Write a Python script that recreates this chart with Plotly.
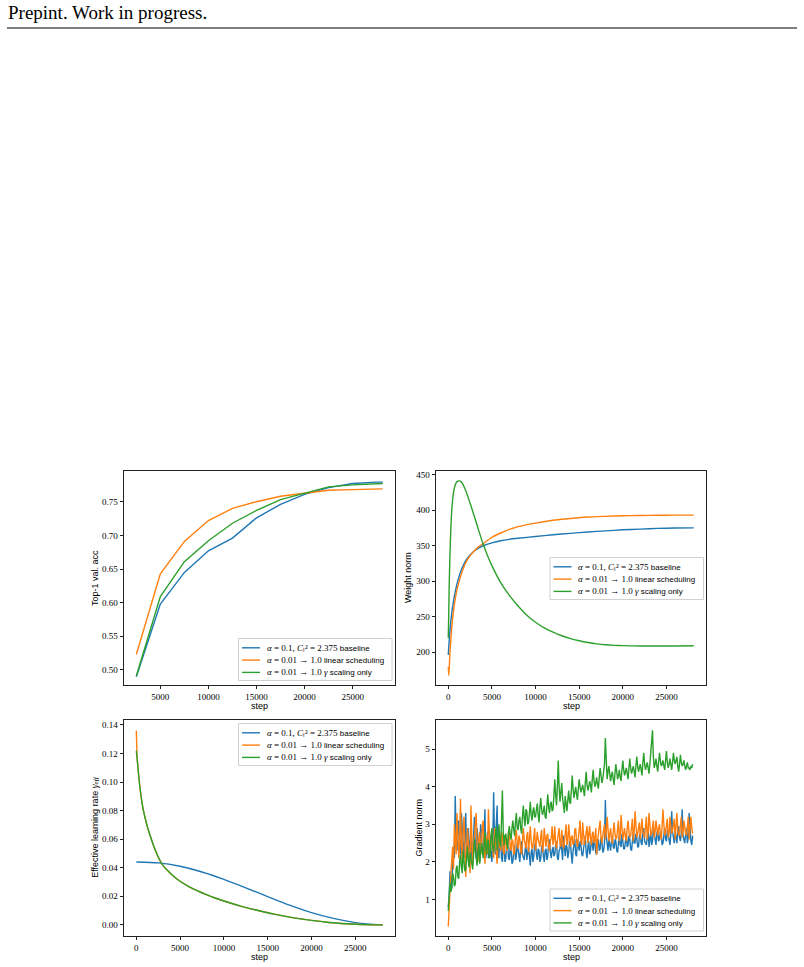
import plotly.graph_objects as go

W, H = 804, 967


def px(x):
    return x / W


def py(y):
    return 1 - y / H


def m(t, italic=False, size=9):
    """math-looking piece of text (serif, optionally italic) with explicit size"""
    st = f"font-family:'Liberation Serif';font-size:{size}px"
    if italic:
        st += ";font-style:italic"
    return f'<span style="{st}">{t}</span>'


def s(t, size=8):
    """plain sans piece of text with explicit size"""
    return f'<span style="font-family:\'Liberation Sans\';font-size:{size}px">{t}</span>'


COLORS = ["#1f77b4", "#ff7f0e", "#2ca02c"]
SERIES = ["baseline", "linear scheduling", "gamma scaling only"]
LEGEND_LABELS = [
    m("α", True) + m(" = 0.1, ") + m("C", True) + m("ₗ²", False, 9) + m(" = 2.375 ") + s("baseline"),
    m("α", True) + m(" = 0.01 → 1.0 ") + s("linear scheduling"),
    m("α", True) + m(" = 0.01 → 1.0 ") + m("γ", True) + s(" scaling only"),
]

# ---------------- Top-1 validation accuracy ----------------
ACC_STEPS = [2500, 5000, 7500, 10000, 12500, 15000, 17500, 20000, 22500, 25000, 27500, 28125]
ACC_BASE = [0.490, 0.598, 0.645, 0.677, 0.696, 0.726, 0.746, 0.761, 0.771, 0.777, 0.779, 0.779]
ACC_LIN = [0.523, 0.643, 0.691, 0.722, 0.740, 0.750, 0.758, 0.763, 0.767, 0.768, 0.769, 0.769]
ACC_GAM = [0.491, 0.609, 0.661, 0.692, 0.718, 0.737, 0.753, 0.763, 0.772, 0.775, 0.777, 0.777]

# ---------------- Weight norm ----------------
WN_BASE_STEPS = [0, 100, 200, 400, 600, 800, 1000, 1500, 2000, 2500, 3000, 3500, 4000, 5000,
                 6000, 7000, 8000, 10000, 12000, 14000, 16000, 18000, 20000, 22000, 24000, 26000, 28125]
WN_BASE = [196, 215, 232, 255, 272, 285, 296, 316, 329, 337, 343, 347, 350, 354,
           357, 359, 360.5, 363, 365.5, 367.5, 369.5, 371, 372.5, 373.5, 374.5, 375, 375.3]
WN_LIN_STEPS = [0, 60, 200, 400, 600, 800, 1000, 1500, 2000, 2500, 3000, 3500, 4000, 5000,
                6000, 7000, 8000, 10000, 12000, 14000, 16000, 18000, 20000, 22000, 24000, 26000, 28125]
WN_LIN = [179, 167, 200, 235, 258, 275, 288, 310, 326, 336, 343, 349, 353, 362,
          368, 373, 377, 382, 386, 388.5, 390.5, 391.5, 392.3, 392.8, 393, 393.2, 393.3]
WN_GAM_STEPS = [0, 50, 100, 200, 300, 400, 600, 800, 1000, 1250, 1500, 2000, 2500, 3000, 3500,
                4000, 4500, 5000, 6000, 7000, 8000, 9000, 10000, 11000, 12000, 13000, 14000,
                15000, 16000, 17000, 18000, 19000, 20000, 22000, 24000, 26000, 28125]
WN_GAM = [220, 250, 290, 340, 375, 400, 425, 436, 440.5, 441.5, 440, 428, 410, 391, 371,
          352, 336, 322, 298, 280, 265, 252, 242, 234, 228, 223, 219,
          216, 213.5, 211.5, 210.2, 209.4, 209, 208.5, 208.5, 208.6, 208.8]

# ---------------- Effective learning rate ----------------
ELR_BASE_STEPS = [0, 2500, 5000, 7500, 10000, 12500, 15000, 17500, 20000, 22500, 25000, 27500, 28125]
ELR_BASE = [0.0440, 0.0434, 0.0410, 0.0370, 0.0318, 0.0259, 0.0198, 0.0138, 0.0086, 0.0045,
            0.0016, 0.0002, 0.0]
ELR_STEPS = [0, 100, 250, 500, 750, 1000, 1250, 1500, 2000, 2500, 3000, 4000, 5000, 6000, 7000,
             8000, 9000, 10000, 12000, 14000, 16000, 18000, 20000, 22000, 24000, 26000, 28125]
ELR_LIN = [0.136, 0.117, 0.106, 0.092, 0.082, 0.075, 0.069, 0.064, 0.055, 0.0475, 0.042, 0.0355,
           0.0305, 0.0268, 0.0238, 0.0212, 0.0188, 0.0167, 0.0130, 0.0099, 0.0072, 0.0049,
           0.0031, 0.0017, 0.0008, 0.0002, 0.0]
ELR_GAM = [0.122, 0.116, 0.106, 0.092, 0.082, 0.075, 0.069, 0.064, 0.055, 0.0475, 0.042, 0.0355,
           0.0305, 0.0268, 0.0238, 0.0212, 0.0188, 0.0167, 0.0130, 0.0099, 0.0072, 0.0049,
           0.0031, 0.0017, 0.0008, 0.0002, 0.0]

# ---------------- Gradient norm (logged every 100 steps, 0..28000) ----------------
GN_STEPS = list(range(0, 28001, 100))
GN_BASE = [
    0.80, 1.10, 1.75, 1.50, 1.30, 1.95, 2.40, 2.10, 3.75, 2.60, 2.30, 2.80, 3.10, 2.50, 2.20, 3.30, 2.90, 2.40, 2.10, 2.70,
    3.30, 2.20, 2.40, 2.90, 2.00, 2.50, 2.90, 2.10, 2.30, 2.70, 3.20, 2.40, 2.10, 2.90, 2.60, 2.20, 2.00, 3.00, 2.80, 2.30,
    2.20, 2.60, 3.40, 2.10, 2.30, 2.80, 2.10, 2.40, 2.70, 2.20, 2.00, 2.50, 3.85, 2.60, 2.20, 3.00, 3.50, 2.30, 2.10, 2.70,
    2.60, 2.10, 2.00, 2.50, 2.40, 2.00, 2.10, 2.60, 2.50, 2.10, 2.05, 2.40, 2.30, 1.95, 2.00, 2.30, 2.45, 2.05, 2.15, 2.50,
    2.35, 2.10, 2.00, 2.40, 2.55, 2.20, 2.10, 2.05, 2.30, 2.50, 2.05, 2.20, 2.40, 2.15, 1.90, 2.25, 2.35, 2.00, 2.15, 2.45,
    2.50, 2.20, 2.05, 2.35, 2.30, 2.00, 2.10, 2.40, 2.45, 2.15, 2.00, 2.30, 2.35, 2.05, 2.15, 2.50, 2.60, 2.25, 2.10, 2.30,
    2.40, 2.15, 2.20, 2.45, 2.55, 2.10, 2.05, 2.30, 2.35, 2.60, 2.20, 2.05, 2.70, 2.35, 2.15, 2.45, 2.40, 2.10, 2.25, 2.55,
    2.50, 2.20, 1.95, 2.30, 2.45, 2.60, 2.20, 2.15, 2.60, 2.40, 2.30, 2.55, 2.45, 2.20, 2.15, 2.35, 2.55, 2.70, 2.25, 2.10,
    2.40, 2.55, 2.20, 2.30, 2.65, 2.35, 2.30, 2.60, 2.50, 2.25, 2.20, 2.45, 2.60, 2.30, 2.35, 2.65, 2.55, 2.25, 2.30, 2.50,
    3.65, 2.70, 2.40, 2.30, 2.60, 2.45, 2.30, 2.55, 2.70, 2.40, 2.35, 2.60, 2.55, 2.30, 2.25, 2.50, 2.70, 2.45, 2.40, 2.75,
    2.60, 2.35, 2.35, 2.65, 2.75, 2.40, 2.45, 2.70, 2.60, 2.35, 2.30, 2.55, 2.80, 2.50, 2.50, 2.75, 2.65, 2.40, 2.40, 2.70,
    2.75, 2.50, 2.45, 2.80, 2.90, 2.55, 2.50, 2.45, 2.65, 2.85, 2.40, 2.60, 2.80, 2.45, 2.55, 2.90, 2.70, 2.50, 2.45, 2.75,
    2.85, 2.55, 2.60, 2.80, 2.75, 2.45, 2.50, 2.70, 2.90, 2.60, 2.55, 2.85, 2.70, 2.50, 2.45, 2.75, 3.35, 2.80, 2.60, 2.50,
    2.80, 2.60, 2.50, 2.85, 2.95, 2.65, 2.55, 2.75, 3.40, 2.70, 2.60, 2.50, 2.75, 2.90, 2.50, 2.65, 3.30, 2.80, 2.55, 2.45,
    2.70,
]
GN_LIN = [
    0.28, 0.90, 1.20, 1.70, 2.05, 2.40, 1.80, 3.00, 2.60, 2.20, 3.30, 2.60, 2.10, 2.50, 3.68, 2.40, 2.00, 2.80, 3.20, 2.50,
    1.60, 2.30, 2.90, 2.50, 2.20, 1.70, 3.50, 2.60, 1.90, 2.40, 2.70, 3.10, 3.30, 2.40, 2.00, 2.60, 2.80, 2.20, 2.30, 3.00,
    3.10, 2.40, 1.95, 2.70, 2.60, 2.20, 3.40, 2.80, 2.20, 2.50, 2.80, 2.30, 2.10, 2.90, 2.60, 2.20, 1.95, 2.50, 2.90, 2.40,
    2.30, 2.80, 2.70, 2.30, 2.20, 2.65, 2.60, 2.30, 2.35, 2.80, 2.75, 2.40, 2.30, 2.60, 2.55, 2.20, 2.25, 2.70, 2.85, 2.45,
    2.35, 2.70, 2.60, 2.30, 2.20, 2.55, 2.90, 2.60, 2.40, 2.35, 2.70, 2.80, 2.25, 2.50, 2.95, 2.55, 2.35, 2.40, 2.65, 2.90,
    2.30, 2.50, 2.80, 2.60, 2.45, 2.40, 2.70, 2.85, 2.25, 2.45, 2.90, 2.60, 2.40, 2.70, 2.75, 2.40, 2.30, 2.55, 2.65, 2.95,
    2.45, 2.60, 2.95, 2.50, 2.35, 2.55, 2.70, 2.90, 2.50, 2.40, 2.85, 2.60, 2.35, 2.50, 2.75, 3.00, 2.45, 2.55, 3.00, 2.60,
    2.40, 2.65, 2.70, 2.45, 2.50, 2.85, 2.90, 2.55, 2.40, 2.60, 2.80, 3.10, 2.55, 2.45, 3.05, 2.70, 2.45, 2.60, 2.75, 2.95,
    2.50, 2.70, 2.95, 2.60, 2.45, 2.75, 2.80, 2.50, 2.60, 2.90, 2.20, 2.55, 2.75, 2.95, 3.10, 2.65, 2.50, 2.70, 2.85, 3.00,
    2.60, 2.80, 3.20, 2.70, 2.55, 2.75, 2.90, 2.60, 2.50, 2.80, 3.05, 2.75, 2.60, 2.65, 2.85, 3.10, 2.55, 2.70, 3.25, 2.80,
    2.60, 2.75, 2.90, 2.65, 2.55, 2.90, 3.10, 2.80, 2.65, 2.70, 2.95, 3.15, 2.55, 2.80, 3.35, 2.90, 2.65, 2.75, 2.90, 3.05,
    2.60, 2.85, 3.15, 2.80, 2.70, 2.65, 2.95, 3.20, 2.60, 2.80, 3.30, 2.95, 2.70, 2.75, 2.95, 3.10, 2.65, 2.80, 3.10, 2.85,
    2.70, 2.90, 3.00, 2.75, 2.60, 2.95, 3.40, 3.00, 2.70, 2.80, 2.95, 3.15, 2.65, 2.75, 3.20, 2.95, 2.75, 2.85, 3.00, 3.15,
    2.60, 2.90, 3.30, 2.85, 2.70, 2.75, 2.95, 3.20, 2.65, 2.80, 3.10, 2.90, 2.75, 2.70, 3.00, 3.20, 2.60, 2.85, 3.20, 2.90,
    2.75,
]
GN_GAM = [
    0.70, 1.10, 1.45, 1.20, 1.30, 1.70, 1.60, 1.35, 1.40, 1.80, 1.90, 1.60, 1.55, 2.00, 2.20, 1.85, 1.70, 2.30, 2.05, 1.75,
    1.80, 2.10, 2.40, 2.00, 1.85, 2.25, 2.10, 1.90, 1.80, 2.20, 2.60, 2.30, 2.00, 1.90, 2.30, 2.50, 1.95, 2.20, 2.50, 2.30,
    2.10, 2.40, 2.80, 2.35, 2.20, 2.60, 2.55, 2.10, 2.15, 2.70, 2.90, 2.40, 2.25, 2.50, 2.70, 2.95, 2.30, 2.60, 3.00, 2.55,
    2.40, 3.10, 3.90, 2.80, 2.45, 2.70, 2.75, 2.50, 2.35, 2.80, 2.95, 2.70, 2.60, 2.90, 3.10, 2.85, 2.70, 3.05, 3.30, 2.90,
    2.85, 3.10, 3.20, 2.90, 2.75, 3.20, 3.50, 3.15, 2.95, 3.40, 3.35, 3.00, 3.05, 3.30, 3.60, 3.25, 3.10, 3.35, 3.45, 3.20,
    3.20, 3.40, 3.55, 3.25, 3.05, 3.45, 3.70, 3.40, 3.25, 3.35, 3.50, 3.20, 3.15, 3.50, 3.80, 3.45, 3.30, 3.55, 3.60, 3.35,
    3.40, 3.75, 4.20, 3.80, 3.50, 4.00, 4.70, 4.00, 3.60, 3.85, 4.10, 3.70, 3.45, 3.30, 3.75, 3.50, 3.35, 3.65, 3.90, 3.60,
    3.55, 3.90, 4.30, 3.95, 3.70, 3.85, 4.00, 3.80, 3.65, 3.95, 4.20, 4.00, 3.85, 3.95, 4.05, 3.90, 3.75, 4.10, 4.40, 4.05,
    3.90, 4.00, 4.15, 4.05, 3.85, 4.20, 4.45, 4.15, 4.00, 4.10, 4.25, 4.05, 3.95, 4.25, 4.50, 4.30, 4.10, 4.20, 4.35, 4.60,
    5.30, 4.50, 4.20, 4.40, 4.55, 4.35, 4.15, 4.30, 4.40, 4.20, 4.05, 4.35, 4.60, 4.40, 4.20, 4.30, 4.45, 4.25, 4.15, 4.45,
    4.70, 4.45, 4.30, 4.40, 4.50, 4.35, 4.20, 4.50, 4.75, 4.50, 4.35, 4.45, 4.55, 4.40, 4.25, 4.55, 4.80, 4.55, 4.40, 4.50,
    4.60, 4.45, 4.30, 4.65, 4.90, 4.60, 4.45, 4.55, 4.65, 4.50, 4.35, 4.60, 4.85, 5.20, 5.50, 4.80, 4.50, 4.60, 4.75, 4.55,
    4.40, 4.65, 4.90, 4.70, 4.55, 4.60, 4.70, 4.55, 4.45, 4.70, 4.95, 4.65, 4.50, 4.60, 4.75, 4.60, 4.45, 4.65, 4.90, 4.70,
    4.60, 4.70, 4.80, 4.55, 4.40, 4.60, 4.85, 4.65, 4.55, 4.60, 4.70, 4.55, 4.45, 4.55, 4.65, 4.50, 4.50, 4.45, 4.55, 4.50,
    4.60,
]

# ---------------- Tick labels ----------------
X_TICKS_ACC = [5000, 10000, 15000, 20000, 25000]
X_TICKS = [0, 5000, 10000, 15000, 20000, 25000]
Y_TICKS_ACC = [0.50, 0.55, 0.60, 0.65, 0.70, 0.75]
Y_TICKS_WN = [200, 250, 300, 350, 400, 450]
Y_TICKS_ELR = [0.00, 0.02, 0.04, 0.06, 0.08, 0.10, 0.12, 0.14]
Y_TICKS_GN = [1, 2, 3, 4, 5]

# panel boxes in pixels: (left, right, top, bottom)
BOX = {
    1: (124, 395, 471, 685),
    2: (436, 706, 471, 685),
    3: (124, 395, 719.5, 936),
    4: (436, 706, 719.5, 935.5),
}

fig = go.Figure()

panels = [
    (1, [(ACC_STEPS, ACC_BASE), (ACC_STEPS, ACC_LIN), (ACC_STEPS, ACC_GAM)], "linear"),
    (2, [(WN_BASE_STEPS, WN_BASE), (WN_LIN_STEPS, WN_LIN), (WN_GAM_STEPS, WN_GAM)], "spline"),
    (3, [(ELR_BASE_STEPS, ELR_BASE), (ELR_STEPS, ELR_LIN), (ELR_STEPS, ELR_GAM)], "spline"),
    (4, [(GN_STEPS, GN_BASE), (GN_STEPS, GN_LIN), (GN_STEPS, GN_GAM)], "linear"),
]

for idx, series, shape in panels:
    sfx = "" if idx == 1 else str(idx)
    for (xs, ys), color, name in zip(series, COLORS, SERIES):
        line = dict(color=color, width=1.4, shape=shape)
        if shape == "spline":
            line["smoothing"] = 0.6
        fig.add_trace(go.Scatter(
            x=xs, y=ys, mode="lines", name=name, line=line,
            xaxis="x" + sfx, yaxis="y" + sfx, showlegend=False, hoverinfo="skip",
        ))

tick_font = dict(family="Liberation Serif", size=9, color="#000")
axis_common = dict(
    showgrid=False, zeroline=False, showline=True, mirror=True,
    linecolor="#222", linewidth=0.9, ticks="outside", ticklen=3.5,
    tickwidth=0.9, tickcolor="#222", tickfont=tick_font, tickmode="array",
)

ranges = {
    1: ([1219, 29406], [0.4777, 0.7956]),
    2: ([-1406, 29531], [153.5, 455.5]),
    3: ([-1406, 29531], [-0.0078, 0.1438]),
    4: ([-1406, 29531], [0.04, 5.79]),
}
xticks = {1: X_TICKS_ACC, 2: X_TICKS, 3: X_TICKS, 4: X_TICKS}
yticks = {1: (Y_TICKS_ACC, "{:.2f}"), 2: (Y_TICKS_WN, "{:d}"),
          3: (Y_TICKS_ELR, "{:.2f}"), 4: (Y_TICKS_GN, "{:d}")}

layout = {}
for idx in range(1, 5):
    l, r, t, b = BOX[idx]
    sfx = "" if idx == 1 else str(idx)
    yt, fmt = yticks[idx]
    layout["xaxis" + sfx] = dict(
        axis_common, domain=[px(l), px(r)], range=ranges[idx][0],
        anchor="y" + sfx, tickvals=xticks[idx], ticktext=[str(v) for v in xticks[idx]],
    )
    layout["yaxis" + sfx] = dict(
        axis_common, domain=[py(b), py(t)], range=ranges[idx][1],
        anchor="x" + sfx, tickvals=yt, ticktext=[fmt.format(v) for v in yt],
    )

shapes = []
annotations = []

# header
annotations.append(dict(
    text="Prepint. Work in progress.", x=px(6), y=py(12.5), xref="paper", yref="paper",
    xanchor="left", yanchor="middle", showarrow=False,
    font=dict(family="Liberation Serif", size=19, color="#000"),
))
shapes.append(dict(type="line", xref="paper", yref="paper", x0=px(7), x1=px(797),
                   y0=py(28), y1=py(28), line=dict(color="#000", width=1)))

label_font = dict(family="Liberation Sans", size=9, color="#000")
ELR_TITLE = s("Effective learning rate ", 9) + m("γ", True, 10) + m("eff", True, 7)
# axis titles
for idx, ytitle, xpos in [(1, "Top-1 val. acc", 95), (2, "Weight norm", 408),
                          (3, ELR_TITLE, 95), (4, "Gradient norm", 418)]:
    l, r, t, b = BOX[idx]
    annotations.append(dict(text=ytitle, x=px(xpos), y=py((t + b) / 2), xref="paper", yref="paper",
                            xanchor="center", yanchor="middle", textangle=-90, showarrow=False,
                            font=label_font))
    ystep = 706 if idx <= 2 else 957
    annotations.append(dict(text="step", x=px((l + r) / 2), y=py(ystep), xref="paper", yref="paper",
                            xanchor="center", yanchor="middle", showarrow=False, font=label_font))

# legends (left, top) in pixels
LEGENDS = {1: (238.5, 638.5), 2: (550, 557.5), 3: (238.5, 723.5), 4: (550, 889)}
for idx, (lx, ty) in LEGENDS.items():
    shapes.append(dict(type="rect", xref="paper", yref="paper",
                       x0=px(lx), x1=px(lx + 153.5), y0=py(ty), y1=py(ty + 42),
                       line=dict(color="#cccccc", width=0.9), fillcolor="rgba(255,255,255,0.85)",
                       layer="above"))
    for k, (color, label) in enumerate(zip(COLORS, LEGEND_LABELS)):
        yy = ty + 9.3 + 12.3 * k
        shapes.append(dict(type="line", xref="paper", yref="paper",
                           x0=px(lx + 3.5), x1=px(lx + 21.5), y0=py(yy), y1=py(yy),
                           line=dict(color=color, width=1.4), layer="above"))
        annotations.append(dict(text=label, x=px(lx + 26), y=py(yy), xref="paper", yref="paper",
                                xanchor="left", yanchor="middle", showarrow=False,
                                font=dict(family="Liberation Sans", size=9, color="#000")))

fig.update_layout(
    width=W, height=H, margin=dict(l=0, r=0, t=0, b=0),
    paper_bgcolor="white", plot_bgcolor="white", showlegend=False,
    shapes=shapes, annotations=annotations, **layout,
)

fig.write_html("out.html")
